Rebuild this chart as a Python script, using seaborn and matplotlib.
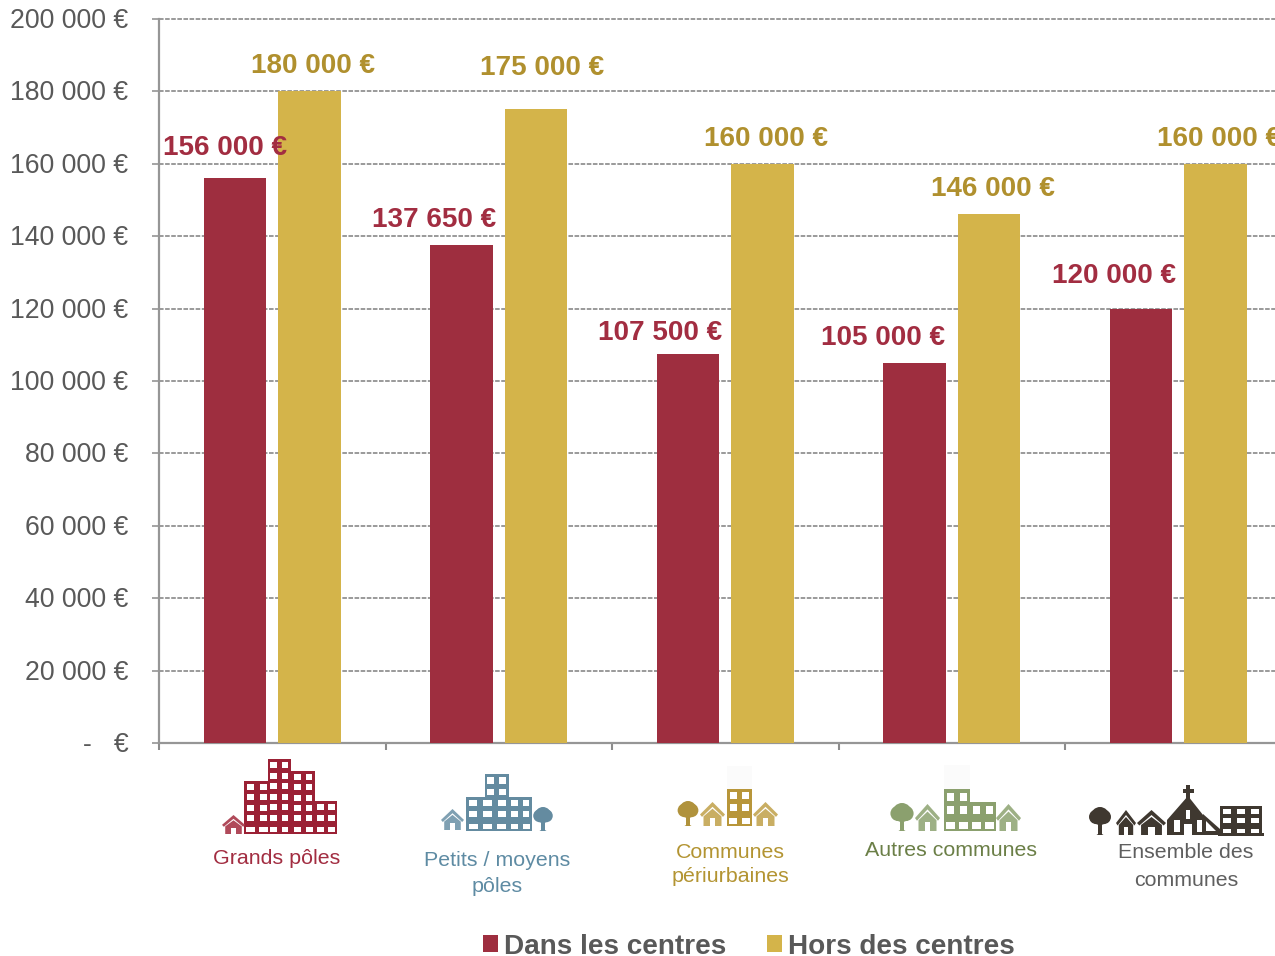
import matplotlib
matplotlib.use("Agg")
import matplotlib.pyplot as plt
from matplotlib.patches import Rectangle, Polygon, Circle
from matplotlib.transforms import ScaledTranslation
import numpy as np
import pandas as pd
import seaborn as sns

# Median prices by type of commune, inside and outside town centres
categories = ["Grands pôles", "Petits / moyens pôles", "Communes périurbaines",
              "Autres communes", "Ensemble des communes"]
dans_centres = [156000, 137650, 107500, 105000, 120000]
hors_centres = [180000, 175000, 160000, 146000, 160000]
series_names = ["Dans les centres", "Hors des centres"]
y_ticks = list(range(0, 200001, 20000))

RED, GOLD = "#9E2E3F", "#D4B44A"
RED_TXT, GOLD_TXT = "#A22D41", "#B0902E"
GREY_TXT = "#595959"
W, H = 1275, 956

sns.set_theme(style="white")
plt.rcParams["font.family"] = ["Liberation Sans", "DejaVu Sans"]


def euro(v):
    return f"{v:,.0f} €".replace(",", " ")


df = pd.DataFrame({
    "categorie": categories * 2,
    "serie": [series_names[0]] * 5 + [series_names[1]] * 5,
    "prix": dans_centres + hors_centres,
})

fig = plt.figure(figsize=(W / 100, H / 100), dpi=100, facecolor="white")
# the category axis runs slightly past the right edge of the figure
ax = fig.add_axes([159 / W, (H - 743) / H, 1132.5 / W, 724 / H])
sns.barplot(data=df, x="categorie", y="prix", hue="serie", order=categories,
            hue_order=series_names, palette=[RED, GOLD], width=0.656, gap=0.16,
            saturation=1, ax=ax, zorder=3, legend=True, errorbar=None, linewidth=0)

ax.set_xlim(-0.5, 4.5)
ax.set_ylim(0, 200000)
ax.set_xlabel("")
ax.set_ylabel("")
ax.set_xticks(np.arange(-0.5, 5, 1))
ax.set_xticklabels([""] * 6)
ax.set_yticks(y_ticks)
ax.set_yticklabels(["-   €" if v == 0 else euro(v) for v in y_ticks],
                   fontsize=19.2, color=GREY_TXT)
ax.tick_params(axis="y", length=5, width=1.1, color="#8c8c8c", pad=17, left=True)
ax.tick_params(axis="x", length=5, width=1.5, color="#8c8c8c", bottom=True)
lift = ScaledTranslation(0, 0.72 / 72, fig.dpi_scale_trans)
for lab in ax.get_yticklabels():
    lab.set_transform(lab.get_transform() + lift)
ax.set_axisbelow(True)
ax.yaxis.grid(True, color="#7f7f7f", lw=1.1, ls=(0, (3, 1)), clip_on=False)
ax.xaxis.grid(False)
for side in ("top", "right"):
    ax.spines[side].set_visible(False)
for side in ("left", "bottom"):
    ax.spines[side].set_color("#969696")
    ax.spines[side].set_linewidth(1.6)

# value labels, nudged clear of the neighbouring bars
red_offsets = [(-10, 30), (-28, 25), (-28, 21), (-32, 25), (-27, 33)]
gold_offsets = [(4, 25.5), (6.5, 41.5), (4, 25), (4, 25.5), (4, 25)]
containers = ax.containers
for bars, vals, offs, col in ((containers[0], dans_centres, red_offsets, RED_TXT),
                              (containers[1], hors_centres, gold_offsets, GOLD_TXT)):
    for bar, v, (dx, dy) in zip(bars, vals, offs):
        ax.annotate(euro(v), xy=(bar.get_x() + bar.get_width() / 2, v),
                    xytext=(dx * 0.72, dy * 0.72), textcoords="offset points",
                    ha="center", va="center", fontsize=20.1, fontweight="bold",
                    color=col, zorder=5)

handles, labels = ax.get_legend_handles_labels()
ax.get_legend().remove()
leg = fig.legend(handles, labels, loc="center left",
                 bbox_to_anchor=(482.5 / W, (H - 946.5) / H), bbox_transform=fig.transFigure,
                 ncol=2, frameon=False, borderaxespad=0, borderpad=0,
                 prop={"size": 20.1, "weight": "bold"}, labelcolor=GREY_TXT,
                 handlelength=0.56, handleheight=0.56, handletextpad=0.2,
                 columnspacing=1.46)

# overlay in pixel units for the commune pictograms and their captions
ov = fig.add_axes([0, 0, 1, 1], zorder=6)
ov.set_xlim(0, W)
ov.set_ylim(H, 0)
ov.axis("off")
ov.patch.set_alpha(0)


def rect(x0, y0, x1, y1, color):
    ov.add_patch(Rectangle((x0, y0), x1 - x0, y1 - y0, fc=color, ec="none"))


def block(x0, top, x1, base, color, cols, rows, door=True):
    """Building with a grid of white windows and an optional ground-floor row."""
    rect(x0, top, x1, base, color)
    floors = rows + (1 if door else 0)
    fh = (base - top) / (floors + 0.1)
    fw = (x1 - x0) / cols
    for c in range(cols):
        wx = x0 + fw * (c + 0.2)
        for r in range(rows):
            wy = top + fh * (r + 0.28)
            rect(wx, wy, wx + fw * 0.58, wy + fh * 0.58, "white")
    if door:
        wy = top + fh * (rows + 0.42)
        for c in range(cols):
            wx = x0 + fw * (c + 0.18)
            rect(wx, wy, wx + fw * 0.64, wy + fh * 0.5, "white")


def house(x0, x1, top, base, color):
    w, h = x1 - x0, base - top
    cx = (x0 + x1) / 2
    ov.add_patch(Polygon([(x0, top + h * .52), (cx, top), (x1, top + h * .52),
                          (x1 - w * .08, top + h * .62), (cx, top + h * .2),
                          (x0 + w * .08, top + h * .62)], fc=color, ec="none"))
    ov.add_patch(Polygon([(x0 + w * .14, top + h * .6), (cx, top + h * .28),
                          (x1 - w * .14, top + h * .6), (x1 - w * .14, base),
                          (x0 + w * .14, base)], fc=color, ec="none"))
    rect(cx - w * .11, top + h * .68, cx + w * .11, base, "white")


def tree(cx, top, bottom, base, color):
    r = (bottom - top) / 2
    cy = top + r
    ov.add_patch(Circle((cx, cy), r, fc=color, ec="none"))
    ov.add_patch(Circle((cx - r * .42, cy + r * .1), r * .8, fc=color, ec="none"))
    ov.add_patch(Circle((cx + r * .42, cy + r * .1), r * .8, fc=color, ec="none"))
    ov.add_patch(Polygon([(cx - 2, bottom - 3), (cx + 2, bottom - 3),
                          (cx + 2, base - 1), (cx + 3.5, base), (cx - 3.5, base),
                          (cx - 2, base - 1)], fc=color, ec="none"))


# Grands pôles
c = "#9B2135"
block(268, 759, 291, 834, c, 2, 6)
block(244, 781, 270, 834, c, 2, 4)
block(292, 771, 315, 834, c, 2, 5)
block(315, 801, 337, 834, c, 2, 2)
rect(288, 771, 293, 834, c)
house(222, 245, 815, 834, "#B04A5A")

# Petits / moyens pôles
c = "#648BA0"
block(485, 774, 509, 798, c, 2, 2, door=False)
block(466, 797, 509, 831, c, 3, 2)
block(509, 797, 532, 831, c, 2, 2)
house(441, 464, 809, 830, "#7FA0B2")
tree(543, 807, 823, 831, c)

# Communes périurbaines
c = "#B8963A"
tree(688, 801, 818, 826, "#B0923C")
house(700, 725, 802, 826, "#C9AE63")
rect(727, 766, 752, 789, "#FBFBFB")
block(727, 789, 752, 826, c, 2, 2)
house(753, 778, 802, 826, "#C9AE63")

# Autres communes
c = "#8BA06E"
tree(902, 803, 822, 831, c)
house(915, 940, 804, 831, "#9DB085")
rect(944, 765, 970, 789, "#FBFBFB")
block(944, 789, 970, 831, c, 2, 2)
block(970, 802, 996, 831, c, 2, 1)
house(996, 1021, 804, 831, "#9DB085")

# Ensemble des communes
c = "#3F3830"
tree(1100, 807, 825, 835, c)
house(1116, 1136, 810, 835, c)
house(1137, 1166, 810, 835, c)
rect(1186, 785, 1190, 800, c)
rect(1182.5, 789, 1193.5, 792.5, c)
ov.add_patch(Polygon([(1167, 820), (1188, 796), (1207, 820), (1207, 835), (1167, 835)],
                     fc=c, ec="none"))
ov.add_patch(Polygon([(1203, 814), (1220, 829), (1220, 835), (1203, 835)], fc=c, ec="none"))
ov.add_patch(Polygon([(1206, 821), (1216, 831), (1206, 831)], fc="white", ec="none"))
rect(1174, 820, 1180, 832, "white")
rect(1184, 824, 1192, 835, "white")
rect(1197, 820, 1202, 832, "white")
rect(1186, 810, 1190, 819, "white")
block(1220, 806, 1262, 835, c, 3, 2)
rect(1218, 832.5, 1264, 835.5, c)

caption_lines = [("Grands pôles", 277, 858, RED_TXT),
                 ("Petits / moyens", 497, 860, "#5E8BA3"),
                 ("pôles", 497, 886, "#5E8BA3"),
                 ("Communes", 730, 852, "#B39432"),
                 ("périurbaines", 730, 876, "#B39432"),
                 ("Autres communes", 951, 850, "#6B7F47"),
                 ("Ensemble des", 1186, 853, "#5F5F5F"),
                 ("communes", 1186, 880, "#5F5F5F")]
for txt, x, y, col in caption_lines:
    ov.text(x, y, txt, ha="center", va="center", fontsize=15.4, color=col)

fig.savefig("out.png", dpi=100)
